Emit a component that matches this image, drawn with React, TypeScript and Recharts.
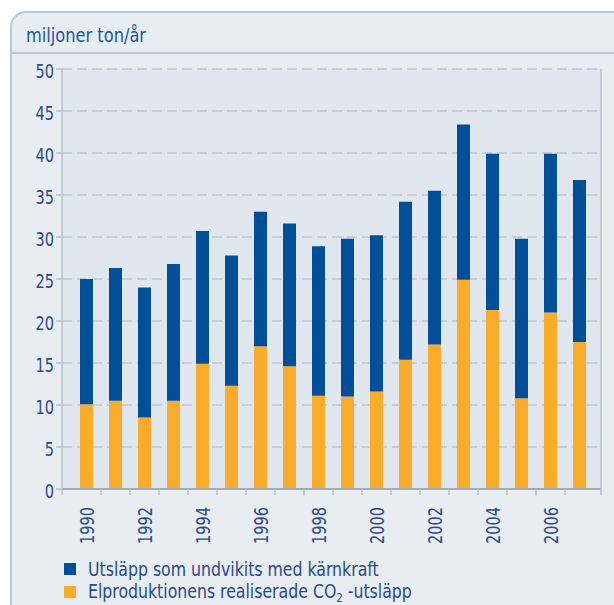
import React from 'react';
import { BarChart, Bar, XAxis, YAxis, CartesianGrid } from 'recharts';

const years = ['1990', '1991', '1992', '1993', '1994', '1995', '1996', '1997', '1998', '1999', '2000', '2001', '2002', '2003', '2004', '2005', '2006', '2007'];
const realised = [10.1, 10.5, 8.5, 10.5, 14.9, 12.3, 17.0, 14.6, 11.1, 11.0, 11.6, 15.4, 17.2, 24.9, 21.3, 10.8, 21.0, 17.5];
const avoided = [14.9, 15.8, 15.5, 16.3, 15.8, 15.5, 16.0, 17.0, 17.8, 18.8, 18.6, 18.8, 18.3, 18.5, 18.6, 19.0, 18.9, 19.3];
const yTicks = [0, 5, 10, 15, 20, 25, 30, 35, 40, 45, 50];
const unitLabel = 'miljoner ton/år';
const avoidedLabel = 'Utsläpp som undvikits med kärnkraft';
const realisedLabelMain = 'Elproduktionens realiserade CO';
const realisedLabelSub = '2';
const realisedLabelTail = ' -utsläpp';

const data = years.map((year, i) => ({ year, realised: realised[i], avoided: avoided[i] }));

const FONT = "'DejaVu Sans Condensed', 'Liberation Sans Narrow', sans-serif";
const TEXT = '#2b4a8c';
const BLUE = '#004f98';
const ORANGE = '#fbab2a';
const W = 614;
const H = 605;
const M = { top: 69, right: 13, bottom: 56, left: 0 };
const XH = 60;
const AXIS_Y = H - M.bottom - XH;
const SX = 0.85;

const XTick = (props: any) => {
  const { x, index, payload } = props;
  const half = 14.5;
  const isLast = index === years.length - 1;
  const rightX = isLast ? x + 21.5 : x + half;
  const show = parseInt(payload.value, 10) % 2 === 0;
  return (
    <g>
      {index === 0 && <line x1={x - 24.5} x2={x - 24.5} y1={AXIS_Y} y2={AXIS_Y + 6} stroke="#b3bfcc" strokeWidth={1.5} />}
      <line x1={rightX} x2={rightX} y1={AXIS_Y} y2={AXIS_Y + 6} stroke="#b3bfcc" strokeWidth={1.5} />
      {show && (
        <g transform={`translate(${x + 1}, ${AXIS_Y + 18}) rotate(-90) scale(${SX}, 1)`}>
          <text
            x={0}
            y={0}
            textAnchor="end"
            dominantBaseline="central"
            fill={TEXT}
            fontSize={19}
            fontFamily={FONT}
          >
            {payload.value}
          </text>
        </g>
      )}
    </g>
  );
};

const YTick = (props: any) => {
  const { x, y, payload } = props;
  return (
    <g transform={`translate(${x}, ${y + 3}) scale(${SX}, 1)`}>
      <text x={0} y={0} textAnchor="end" dominantBaseline="central" fill={TEXT} fontSize={19} fontFamily={FONT}>
        {payload.value}
      </text>
    </g>
  );
};

export default function App() {
  return (
    <div style={{ position: 'absolute', left: 0, top: 0, width: W, height: H, overflow: 'hidden', background: '#ffffff' }}>
      <div
        style={{
          position: 'absolute',
          left: 10,
          top: 11,
          width: W + 20,
          height: H + 20,
          boxSizing: 'border-box',
          border: '2px solid #b8c8d9',
          borderTopLeftRadius: 16,
          background: '#e8edf2',
        }}
      />
      <div style={{ position: 'absolute', left: 10, top: 52, width: W, height: 2, background: '#b8c8d9' }} />
      <div style={{ position: 'absolute', left: 0, top: 0 }}>
        <BarChart width={W} height={H} data={data} margin={M} barSize={13} barCategoryGap={0}>
          <CartesianGrid
            vertical={false}
            fill="#e1e7ef"
            fillOpacity={1}
            stroke="#c4ceda"
            strokeWidth={2}
            strokeDasharray="10 5"
          />
          <CartesianGrid horizontal={false} verticalPoints={[601]} stroke="#c3cdd8" strokeWidth={2} />
          <XAxis
            dataKey="year"
            interval={0}
            height={XH}
            padding={{ left: 10, right: 7 }}
            axisLine={{ stroke: '#a3aab3', strokeWidth: 2 }}
            tickLine={false}
            tick={<XTick />}
          />
          <YAxis
            width={62}
            domain={[0, 50]}
            ticks={yTicks}
            interval={0}
            axisLine={{ stroke: '#b8c4d0', strokeWidth: 1.5 }}
            tickLine={{ stroke: '#b3bfcc', strokeWidth: 1.5 }}
            tickSize={6}
            tick={<YTick />}
          />
          <Bar dataKey="realised" stackId="a" fill={ORANGE} isAnimationActive={false} />
          <Bar dataKey="avoided" stackId="a" fill={BLUE} isAnimationActive={false} />
        </BarChart>
      </div>
      <svg style={{ position: 'absolute', left: 0, top: 0 }} width={W} height={H}>
        <g transform="translate(26, 42) scale(0.95, 1)">
          <text x={0} y={0} fill="#1f559d" fontSize={19} fontFamily={FONT}>{unitLabel}</text>
        </g>
        <rect x={64} y={563} width={12} height={12} fill={BLUE} />
        <g transform="translate(88, 575.5) scale(0.875, 1)">
          <text x={0} y={0} fill={TEXT} fontSize={20} fontFamily={FONT}>{avoidedLabel}</text>
        </g>
        <rect x={64} y={586} width={12} height={12} fill={ORANGE} />
        <g transform="translate(88, 598) scale(0.875, 1)">
          <text x={0} y={0} fill={TEXT} fontSize={20} fontFamily={FONT}>
            {realisedLabelMain}
            <tspan fontSize={13} dy={4}>{realisedLabelSub}</tspan>
            <tspan dy={-4}>{realisedLabelTail}</tspan>
          </text>
        </g>
      </svg>
    </div>
  );
}
